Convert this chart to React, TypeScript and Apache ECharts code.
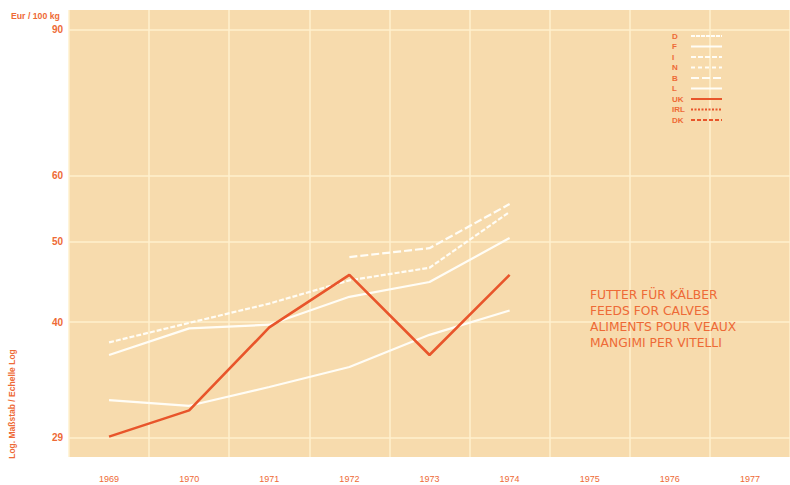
import React, { useEffect, useRef } from 'react';
import * as echarts from 'echarts';

const years = ['1969', '1970', '1971', '1972', '1973', '1974', '1975', '1976', '1977'];
const yTicks = [29, 40, 50, 60, 90];

const seriesD: (number | null)[] = [null, null, null, null, null, null, null, null, null];
const seriesF: (number | null)[] = [32.2, 31.7, 33.4, 35.3, 38.6, 41.3, null, null, null];
const seriesI: (number | null)[] = [37.8, 39.9, 42.1, 44.9, 46.5, 54.3, null, null, null];
const seriesN: (number | null)[] = [null, null, null, null, null, null, null, null, null];
const seriesB: (number | null)[] = [null, null, null, 47.9, 49.1, 55.5, null, null, null];
const seriesL: (number | null)[] = [36.5, 39.3, 39.7, 42.9, 44.7, 50.5, null, null, null];
const seriesUK: (number | null)[] = [29.1, 31.3, 39.4, 45.6, 36.5, 45.6, null, null, null];
const seriesIRL: (number | null)[] = [null, null, null, null, null, null, null, null, null];
const seriesDK: (number | null)[] = [null, null, null, null, null, null, null, null, null];

const titleLines = ['FUTTER FÜR KÄLBER', 'FEEDS FOR CALVES', 'ALIMENTS POUR VEAUX', 'MANGIMI PER VITELLI'];

const ORANGE = '#EE6A36';
const RED = '#E8552B';
const WHITE = '#FFFDF6';
const GRIDC = '#FFF1CE';
const BG = '#F7DBAD';
const FONT = '"Liberation Sans", Arial, sans-serif';
const WIDE = '"DejaVu Sans", "Liberation Sans", sans-serif';

export default function App() {
  const ref = useRef<HTMLDivElement>(null);
  useEffect(() => {
    if (!ref.current) return;
    const chart = echarts.init(ref.current, null, { renderer: 'svg' });
    const white = (name: string, data: (number | null)[], type: any) => ({
      name,
      type: 'line',
      data,
      symbol: 'none',
      connectNulls: false,
      lineStyle: { color: WHITE, width: 2.2, type },
      itemStyle: { color: WHITE },
    });
    chart.setOption({
      animation: false,
      backgroundColor: '#ffffff',
      textStyle: { fontFamily: FONT },
      grid: {
        left: 69,
        right: 0,
        top: 10,
        bottom: 28,
        show: true,
        backgroundColor: BG,
        borderWidth: 0,
      },
      legend: {
        orient: 'vertical',
        right: 62,
        top: 27,
        itemWidth: 31,
        itemHeight: 8,
        itemGap: 2.5,
        align: 'right',
        formatter: '{a|{name}}',
        itemStyle: { opacity: 0, color: 'transparent', borderWidth: 0 },
        textStyle: {
          color: ORANGE,
          fontSize: 8,
          fontWeight: 'bold',
          fontFamily: FONT,
          rich: { a: { width: 14, align: 'left', color: ORANGE, fontSize: 8, fontWeight: 'bold', fontFamily: FONT } },
        },
        data: ['D', 'F', 'I', 'N', 'B', 'L', 'UK', 'IRL', 'DK'],
      },
      xAxis: {
        type: 'category',
        data: years,
        boundaryGap: true,
        axisLine: { show: false },
        axisTick: { show: false },
        axisLabel: { color: ORANGE, fontSize: 9, margin: 17, fontFamily: FONT },
        splitLine: { show: true, interval: 0, lineStyle: { color: GRIDC, width: 1.5 } },
      },
      yAxis: {
        type: 'log',
        logBase: 10,
        min: 27.5,
        max: 95.1,
        axisLine: { show: false },
        axisTick: { show: false, customValues: yTicks },
        axisLabel: {
          customValues: yTicks,
          color: ORANGE,
          fontSize: 10,
          fontWeight: 'bold',
          margin: 6,
          fontFamily: FONT,
          formatter: (v: number) => String(Math.round(v)),
        },
        splitLine: { show: true, lineStyle: { color: GRIDC, width: 1.5 } },
      },
      graphic: [
        {
          type: 'text',
          left: 11,
          top: 11,
          z: 100,
          style: { text: 'Eur / 100 kg', fill: ORANGE, fontSize: 8.7, fontWeight: 'bold', fontFamily: FONT },
        },
        {
          type: 'text',
          x: 12,
          y: 404,
          z: 100,
          rotation: Math.PI / 2,
          style: {
            text: 'Log. Maßstab / Echelle Log',
            fill: ORANGE,
            fontSize: 8.5,
            fontWeight: 'bold',
            fontFamily: FONT,
            align: 'center',
            verticalAlign: 'middle',
          },
        },
        {
          type: 'text',
          left: 590,
          top: 287,
          z: 100,
          style: {
            text: titleLines.join('\n'),
            fill: ORANGE,
            fontSize: 12.3,
            lineHeight: 16,
            fontFamily: WIDE,
          },
        },
      ],
      series: [
        white('D', seriesD, [4, 1]),
        white('F', seriesF, 'solid'),
        white('I', seriesI, [5, 2]),
        white('N', seriesN, [4, 3]),
        white('B', seriesB, [8, 3]),
        white('L', seriesL, 'solid'),
        {
          name: 'UK',
          type: 'line',
          data: seriesUK,
          symbol: 'none',
          lineStyle: { color: RED, width: 2.6 },
          itemStyle: { color: RED },
          z: 5,
        },
        {
          name: 'IRL',
          type: 'line',
          data: seriesIRL,
          symbol: 'none',
          lineStyle: { color: RED, width: 2, type: [2, 1.5] },
          itemStyle: { color: RED },
        },
        {
          name: 'DK',
          type: 'line',
          data: seriesDK,
          symbol: 'none',
          lineStyle: { color: RED, width: 2, type: [4, 2] },
          itemStyle: { color: RED },
        },
      ],
    });
    return () => chart.dispose();
  }, []);
  return (
    <div
      ref={ref}
      style={{ position: 'fixed', left: 0, top: 0, width: 790, height: 485 }}
    />
  );
}
